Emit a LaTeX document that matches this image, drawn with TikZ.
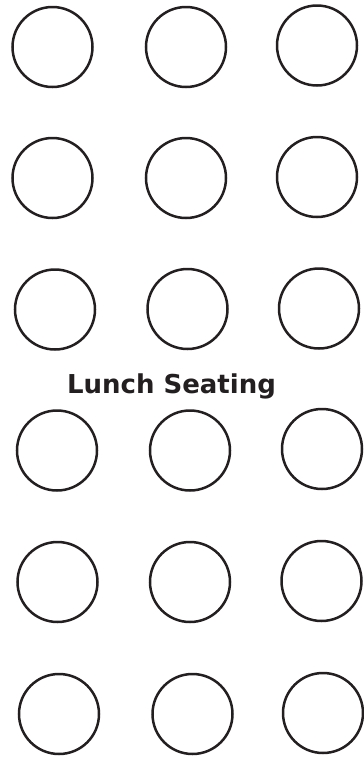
\documentclass[tikz,border=0pt]{standalone}
\usepackage{fontspec}
\newfontfamily\labelfont{DejaVu Sans}
\usepackage{tikz}

\definecolor{ink}{HTML}{231F20}
\tikzset{
  seat/.style={draw=ink,circle,line width=1.25pt,minimum size=40pt,inner sep=0pt},
}

\begin{document}
\begin{tikzpicture}[x=0.5pt,y=-0.5pt]
\useasboundingbox (0,0) rectangle (364,761);
\node[seat] (t11) at (52.5,47) {};
\node[seat] (t12) at (186,47) {};
\node[seat] (t13) at (317,45.5) {};
\node[seat] (t21) at (52.5,178) {};
\node[seat] (t22) at (186,178) {};
\node[seat] (t23) at (317,177) {};
\node[seat] (t31) at (55,309.5) {};
\node[seat] (t32) at (187.5,309) {};
\node[seat] (t33) at (319,308.5) {};
\node[anchor=base,text=ink,font=\labelfont\bfseries\fontsize{13pt}{15pt}\selectfont] (title) at (171.5,393) {Lunch Seating};
\node[seat] (t41) at (57,450.5) {};
\node[seat] (t42) at (190,450.5) {};
\node[seat] (t43) at (322,449) {};
\node[seat] (t51) at (57.5,582) {};
\node[seat] (t52) at (190,582) {};
\node[seat] (t53) at (321.5,581) {};
\node[seat] (t61) at (59,714) {};
\node[seat] (t62) at (192.5,714) {};
\node[seat] (t63) at (323,713) {};
\end{tikzpicture}
\end{document}
